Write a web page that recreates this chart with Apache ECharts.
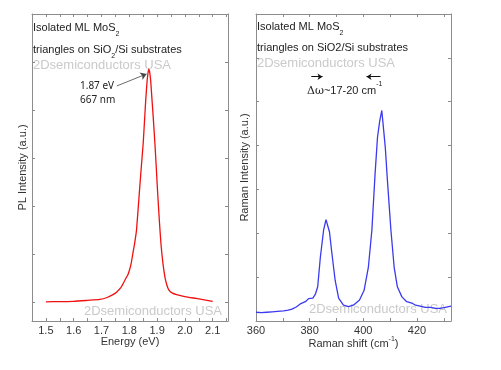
<!DOCTYPE html>
<html><head><meta charset="utf-8">
<script src="https://cdn.jsdelivr.net/npm/echarts@6/dist/echarts.min.js"></script>
<style>html,body{margin:0;padding:0;background:#fff}#c{width:501px;height:370px}</style>
</head><body><div id="c"></div>
<script>
// PL spectrum (energy eV, intensity a.u.)
const plEnergy = [1.50,1.55,1.60,1.65,1.694,1.72,1.741,1.754,1.77,1.784,1.796,1.806,1.814,1.82,1.826,1.836,1.843,1.850,1.855,1.859,1.864,1.868,1.870,1.873,1.877,1.880,1.886,1.892,1.897,1.902,1.908,1.914,1.921,1.928,1.935,1.942,1.955,1.97,2.00,2.04,2.07,2.10];
const plIntensity = [0.00,0.005,0.01,0.03,0.05,0.09,0.15,0.2,0.3,0.45,0.58,0.78,1.05,1.25,1.5,2.27,2.8,3.31,3.8,4.2,4.6,4.8,4.85,4.8,4.6,4.35,3.85,3.31,2.8,2.27,1.7,1.2,0.8,0.52,0.35,0.25,0.18,0.15,0.11,0.07,0.04,0.01];
// Raman spectrum (shift cm-1, intensity a.u.)
const ramanShift = [360,362,364,366,368,370.3,372,373.4,375,376.5,378.4,379.6,381.2,382.2,383,384,385.2,386.1,387.4,388.3,389.5,390.8,392.6,394.5,396.3,398.6,400.3,401.9,403.2,404.4,405.3,406.1,406.9,408.2,409,410.3,411.5,412.7,414.4,416.2,418.4,419.5,421.2,423.1,425,427,428.6,430.5,432.7];
const ramanIntensity = [0.20,0.19,0.20,0.21,0.22,0.23,0.25,0.27,0.32,0.39,0.44,0.51,0.52,0.62,0.78,1.46,2.07,2.31,2.03,1.54,0.93,0.52,0.36,0.33,0.36,0.48,0.70,1.23,2.07,3.36,4.19,4.55,4.80,3.96,3.2,2.07,1.23,0.78,0.55,0.44,0.40,0.36,0.34,0.31,0.31,0.29,0.29,0.31,0.34];
// ticks
const plXTicks = [1.5,1.55,1.6,1.65,1.7,1.75,1.8,1.85,1.9,1.95,2.0,2.05,2.1,2.15];
const plXLabels = [1.5,1.6,1.7,1.8,1.9,2.0,2.1];
const plYTicks = [0,1,2,3,4,5];
const ramanXTicks = [370,380,390,400,410,420,430];
const ramanXLabels = [360,380,400,420];
const ramanYTicks = [1,2,3,4,5,6];

const FONT = 'Liberation Sans, Arial, sans-serif';
const gray = '#8c8c8c';
function axisBase(extra){
  return Object.assign({
    type:'value', splitLine:{show:false},
    axisLine:{show:true, onZero:false, lineStyle:{color:gray, width:1}},
    axisTick:{show:true, inside:true, length:3, lineStyle:{color:gray}},
    axisLabel:{show:false}
  }, extra);
}
const pairs = (a,b)=>a.map((v,i)=>[v,b[i]]);

const chart = echarts.init(document.getElementById('c'), null, {renderer:'canvas'});
const wm = '#cacaca';
function txt(x,y,text,size,color,family){
  return {type:'text', x:x, y:y, style:{text:text, font: size+'px '+(family||FONT), fill:color||'#222', verticalAlign:'middle', rich:{
    sub:{fontSize:7, fontFamily:FONT, verticalAlign:'bottom', lineHeight:20, fill:color||'#222'},
    sup:{fontSize:7, fontFamily:FONT, verticalAlign:'top', lineHeight:20, fill:color||'#222'},
    g:{fontSize:size, fontFamily:'DejaVu Serif, serif', fill:color||'#222'}
  }}};
}
chart.setOption({
  animation:false,
  grid:[
    {left:32, top:14, width:196, height:307},
    {left:256, top:14, width:195, height:307}
  ],
  xAxis:[
    axisBase({gridIndex:0, position:'bottom', min:1.45, max:2.155,
      axisTick:{show:true, inside:true, length:3, lineStyle:{color:gray}, customValues:plXTicks},
      axisLabel:{show:true, customValues:plXLabels, formatter:v=>v.toFixed(1), color:'#333', fontSize:11, fontFamily:FONT, margin:4},
      name:'Energy (eV)', nameLocation:'middle', nameGap:15, nameMoveOverlap:false, nameTextStyle:{color:'#333', fontSize:11, fontFamily:FONT}}),
    axisBase({gridIndex:0, position:'top', min:1.45, max:2.155,
      axisTick:{show:true, inside:true, length:3, lineStyle:{color:gray}, customValues:plXTicks}}),
    axisBase({gridIndex:1, position:'bottom', min:360, max:432.7,
      axisTick:{show:true, inside:true, length:3, lineStyle:{color:gray}, customValues:ramanXTicks},
      axisLabel:{show:true, customValues:ramanXLabels, color:'#333', fontSize:11, fontFamily:FONT, margin:4},
      name:'Raman shift (cm{sup|-1})', nameLocation:'middle', nameGap:15, nameMoveOverlap:false,
      nameTextStyle:{color:'#333', fontSize:11, fontFamily:FONT, rich:{sup:{fontSize:7, fontFamily:FONT, color:'#333', verticalAlign:'top', lineHeight:16}}}}),
    axisBase({gridIndex:1, position:'top', min:360, max:432.7,
      axisTick:{show:true, inside:true, length:3, lineStyle:{color:gray}, customValues:ramanXTicks}})
  ],
  yAxis:[
    axisBase({gridIndex:0, position:'left', min:-0.4, max:6,
      axisTick:{show:true, inside:true, length:3, lineStyle:{color:gray}, customValues:plYTicks},
      name:'PL Intensity (a.u.)', nameLocation:'middle', nameGap:4, nameMoveOverlap:false, nameTextStyle:{color:'#333', fontSize:11, fontFamily:FONT}}),
    axisBase({gridIndex:0, position:'right', min:-0.4, max:6,
      axisTick:{show:true, inside:true, length:3, lineStyle:{color:gray}, customValues:plYTicks}}),
    axisBase({gridIndex:1, position:'left', min:0, max:7,
      axisTick:{show:true, inside:true, length:3, lineStyle:{color:gray}, customValues:ramanYTicks},
      name:'Raman Intensity (a.u.)', nameLocation:'middle', nameGap:6, nameMoveOverlap:false, nameTextStyle:{color:'#333', fontSize:11, fontFamily:FONT}}),
    axisBase({gridIndex:1, position:'right', min:0, max:7,
      axisTick:{show:true, inside:true, length:3, lineStyle:{color:gray}, customValues:ramanYTicks}})
  ],
  series:[
    {type:'line', xAxisIndex:0, yAxisIndex:0, data:pairs(plEnergy, plIntensity), showSymbol:false, smooth:0.2,
      lineStyle:{color:'#f01010', width:1.3},
      markLine:{silent:true, symbol:['none','arrow'], symbolSize:6, label:{show:false},
        lineStyle:{color:'#444', width:0.8, type:'solid'},
        data:[[{coord:[1.755,4.5]},{coord:[1.862,4.75]}]]}},
    {type:'line', xAxisIndex:2, yAxisIndex:2, data:pairs(ramanShift, ramanIntensity), showSymbol:false,
      lineStyle:{color:'#3a3aee', width:1.3},
      markLine:{silent:true, symbol:['none','arrow'], symbolSize:5, label:{show:false},
        lineStyle:{color:'#111', width:1, type:'solid'},
        data:[[{coord:[380.6,5.57]},{coord:[384.8,5.57]}],[{coord:[406.4,5.57]},{coord:[401.2,5.57]}]]}}
  ],
  graphic:[
    txt(33,28,'Isolated ML MoS{sub|2}',11),
    txt(33,50,'triangles on SiO{sub|2}/Si substrates',11),
    txt(33,65,'2Dsemiconductors USA',13,wm),
    txt(80,86,'1.87 eV',10,'#222','Noto Sans, sans-serif'),
    txt(80,100,'667 nm',10,'#222','Noto Sans, sans-serif'),
    txt(84,311,'2Dsemiconductors USA',13,wm),
    txt(257,27,'Isolated ML MoS{sub|2}',11),
    txt(257,48,'triangles on SiO2/Si substrates',11),
    txt(257,63,'2Dsemiconductors USA',13,wm),
    txt(307,91,'{g|Δω}~17-20 cm{sup|-1}',11),
    txt(309,309,'2Dsemiconductors USA',13,wm)
  ]
});
</script></body></html>
